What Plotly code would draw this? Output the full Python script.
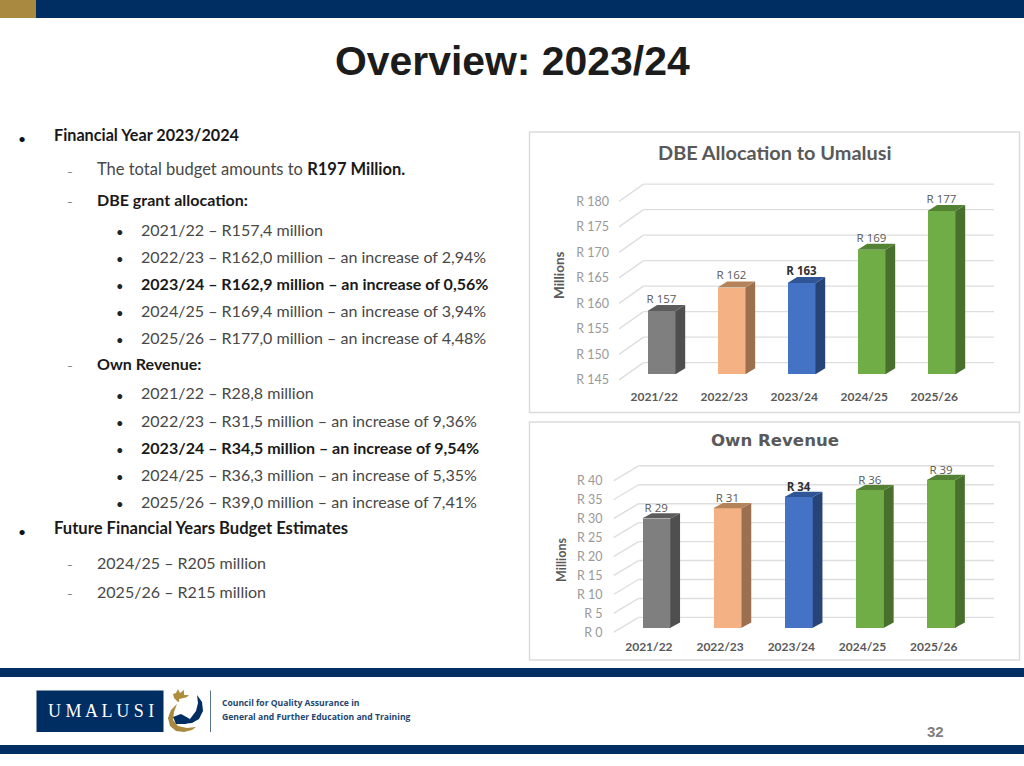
import plotly.graph_objects as go

W, H = 1024, 766
NAVY = "#002d62"

# ---------- data ----------
categories = ["2021/22", "2022/23", "2023/24", "2024/25", "2025/26"]
dbe_values = [157.4, 162.0, 162.9, 169.4, 177.0]
dbe_labels = ["R 157", "R 162", "R 163", "R 169", "R 177"]
dbe_ticks = [145, 150, 155, 160, 165, 170, 175, 180]
own_values = [28.8, 31.5, 34.5, 36.3, 39.0]
own_labels = ["R 29", "R 31", "R 34", "R 36", "R 39"]
own_ticks = [0, 5, 10, 15, 20, 25, 30, 35, 40]
front_colors = ["#7f7f7f", "#f4b183", "#4472c4", "#70ad47", "#70ad47"]
side_colors = ["#4f4f4f", "#9c6f4e", "#264478", "#48702c", "#48702c"]
top_colors = ["#5c5c5c", "#b5835a", "#2f5597", "#548235", "#548235"]

heading = "Overview: 2023/24"
body_lines = [
    (54, 136, 0, 16.2, "<b>Financial Year 2023/2024</b>"),
    (97, 170, 1, 16.5, "The total budget amounts to <b style='color:#1a1a1a'>R197 Million.</b>"),
    (97, 200, 1, 16.05, "<b>DBE grant allocation:</b>"),
    (141, 230, 2, 16.05, "2021/22 – R157,4 million"),
    (141, 257, 2, 16.05, "2022/23 – R162,0 million – an increase of 2,94%"),
    (141, 284, 2, 16.05, "<b>2023/24 – R162,9 million – an increase of 0,56%</b>"),
    (141, 311, 2, 16.05, "2024/25 – R169,4 million – an increase of 3,94%"),
    (141, 338, 2, 16.05, "2025/26 – R177,0 million – an increase of 4,48%"),
    (97, 364, 1, 16.05, "<b>Own Revenue:</b>"),
    (141, 394, 2, 16.05, "2021/22 – R28,8 million"),
    (141, 421, 2, 16.05, "2022/23 – R31,5 million – an increase of 9,36%"),
    (141, 448, 2, 16.05, "<b>2023/24 – R34,5 million – an increase of 9,54%</b>"),
    (141, 475, 2, 16.05, "2024/25 – R36,3 million – an increase of 5,35%"),
    (141, 502, 2, 16.05, "2025/26 – R39,0 million – an increase of 7,41%"),
    (54, 529, 0, 16.6, "<b>Future Financial Years Budget Estimates</b>"),
    (97, 563, 1, 16.05, "2024/25 – R205 million"),
    (97, 592, 1, 16.05, "2025/26 – R215 million"),
]

FONT = "Lato"
fig = go.Figure()
shapes, annotations = [], []


def px(x):
    return x / W


def py(y):
    return 1 - y / H


def text(x, y, s, size, color, anchor="left", family=FONT, angle=0):
    annotations.append(dict(xref="paper", yref="paper", x=px(x), y=py(y), text=s, showarrow=False,
                            xanchor=anchor, yanchor="middle", textangle=angle,
                            font=dict(size=size, color=color, family=family)))


def rect(x0, y0, x1, y1, fill=None, line=None, width=1):
    shapes.append(dict(type="rect", xref="paper", yref="paper", x0=px(x0), x1=px(x1), y0=py(y0), y1=py(y1),
                       fillcolor=fill or "rgba(0,0,0,0)", line=dict(color=line or "rgba(0,0,0,0)", width=width),
                       layer="below"))


def poly(points, fill):
    d = "M " + " L ".join(f"{px(a):.5f},{py(b):.5f}" for a, b in points) + " Z"
    shapes.append(dict(type="path", xref="paper", yref="paper", path=d, fillcolor=fill, line=dict(width=0)))


def chart(n, values, labels, ticks, base, conf):
    xa, ya = f"xaxis{n}", f"yaxis{n}"
    xr, yr = f"x{n}", f"y{n}"
    step, ppu = conf["step"], conf["ppu"]
    u_x = lambda p: p / step
    u_y = lambda p: p / ppu
    x_low = u_x(conf["left"] - conf["cx"])
    x_high = u_x(conf["right"] - conf["cx"])
    y_low = base - u_y(conf["bottom"] - conf["floor"])
    y_high = base + u_y(conf["floor"] - conf["top"])
    half = u_x(conf["barw"]) / 2
    ddx, ddy = u_x(conf["depth_x"]), u_y(conf["depth_y"])

    # back wall gridlines and the floor/side diagonals, under the bars
    back_x0 = u_x(conf["back_left"] - conf["cx"])
    back_dy = u_y(conf["back_dy"])
    front_dy = u_y(conf["front_dy"])
    gl = dict(color="#dedede", width=1.4)
    for t in ticks:
        shapes.append(dict(type="line", xref=xr, yref=yr, x0=back_x0, x1=x_high,
                           y0=t + back_dy, y1=t + back_dy, line=gl, layer="below"))
        shapes.append(dict(type="line", xref=xr, yref=yr, x0=x_low, x1=back_x0,
                           y0=t - front_dy, y1=t + back_dy, line=gl, layer="below"))

    # front faces
    fig.add_trace(go.Bar(x=list(range(len(values))), y=[v - base for v in values], base=base,
                         width=2 * half, marker=dict(color=front_colors, line=dict(width=0)),
                         xaxis=xr, yaxis=yr, showlegend=False, hoverinfo="skip"))
    # side and top faces
    for i, v in enumerate(values):
        fig.add_trace(go.Scatter(
            x=[i + half, i + half + ddx, i + half + ddx, i + half, i + half],
            y=[base, base + ddy, v + ddy, v, base], mode="lines", fill="toself",
            fillcolor=side_colors[i], line=dict(width=0), xaxis=xr, yaxis=yr, showlegend=False, hoverinfo="skip"))
        fig.add_trace(go.Scatter(
            x=[i - half, i - half + ddx, i + half + ddx, i + half, i - half],
            y=[v, v + ddy, v + ddy, v, v], mode="lines", fill="toself",
            fillcolor=top_colors[i], line=dict(width=0), xaxis=xr, yaxis=yr, showlegend=False, hoverinfo="skip"))
    # value labels
    for i, v in enumerate(values):
        bold = i == 2
        fig.add_trace(go.Scatter(
            x=[i], y=[v + ddy + u_y(conf["lab_up"])], mode="text",
            text=[f"<b>{labels[i]}</b>" if bold else labels[i]], textposition="middle center",
            textfont=dict(size=11.5, color="#303030" if bold else "#595959", family="Open Sans"),
            xaxis=xr, yaxis=yr, showlegend=False, hoverinfo="skip", cliponaxis=False))

    fig.update_layout({
        xa: dict(domain=[px(conf["left"]), px(conf["right"])], range=[x_low, x_high], anchor=yr,
                 tickmode="array", tickvals=[i - u_x(conf["cat_shift"]) for i in range(len(categories))],
                 ticktext=categories, showgrid=False, zeroline=False, showline=False, ticks="",
                 ticklabelstandoff=conf["cat_off"],
                 tickfont=dict(size=12, color="#595959", family=f"{FONT}, sans-serif", weight="bold")),
        ya: dict(domain=[py(conf["bottom"]), py(conf["top"])], range=[y_low, y_high], anchor=xr,
                 tickmode="array", tickvals=[t - front_dy for t in ticks],
                 ticktext=[f"R {t}" for t in ticks], showgrid=False, zeroline=False, showline=False, ticks="",
                 ticklabelstandoff=conf["tick_off"],
                 tickfont=dict(size=12.5, color="#999999", family=FONT)),
    })


dbe_conf = dict(cx=661.5, step=70, ppu=5.1, floor=374.3, left=619, right=994, top=178, bottom=384,
                barw=28, depth_x=9.7, depth_y=6, back_left=643.5, back_dy=11.7, front_dy=5.6,
                lab_up=5, cat_shift=7.3, cat_off=4, tick_off=9)
own_conf = dict(cx=656.2, step=71.2, ppu=3.79, floor=627.7, left=613.5, right=994, top=462, bottom=634,
                barw=28.3, depth_x=9.7, depth_y=5.2, back_left=638.5, back_dy=10.3, front_dy=4.7,
                lab_up=4, cat_shift=7.3, cat_off=4, tick_off=10)

# ---------- slide furniture ----------
rect(0, 0, 1024, 18, NAVY)
rect(0, 0, 36, 18, "#a8893f")
rect(0, 668, 1024, 677, NAVY)
rect(0, 745, 1024, 754, NAVY)
rect(529.5, 132, 1019.5, 412.5, None, "#dcdcdc", 1.5)
rect(529.5, 422, 1019.5, 660, None, "#dcdcdc", 1.5)

text(512, 61, f"<b>{heading}</b>", 40.9, "#1c1c1c", "center", "Liberation Sans")

markers = {0: (22, "•", 14, "#111111"), 1: (70, "–", 10, "#555555"), 2: (120, "•", 13, "#222222")}
for x, y, level, size_pt, s in body_lines:
    mx, glyph, size, color = markers[level]
    text(mx, y + (2 if level != 1 else 1), glyph, size, color, "center")
    text(x - 2, y - 1, s, size_pt, "#1a1a1a" if s.startswith("<b>") else "#484848")

chart("", dbe_values, dbe_labels, dbe_ticks, 145, dbe_conf)
chart("2", own_values, own_labels, own_ticks, 0, own_conf)

text(775, 152, "<b>DBE Allocation to Umalusi</b>", 19.9, "#595959", "center")
text(775, 440, "<b>Own Revenue</b>", 16.6, "#595959", "center", "DejaVu Sans")
text(559, 275, "<b>Millions</b>", 13.5, "#595959", "center", angle=-90)
text(561, 560, "<b>Millions</b>", 12.5, "#595959", "center", angle=-90)

# logo
rect(36.5, 690.5, 163.5, 732, NAVY)
text(101, 711, "U M A L U S I", 18, "#ffffff", "center", "Liberation Serif")
rect(210, 690.5, 211, 732, "#5a7391")
poly([(178, 689), (180, 693), (184, 690), (184, 695), (189, 695), (186, 698), (178, 702), (174, 698), (173, 694), (176, 693)], "#b08d3c")
poly([(177, 704), (171, 710), (168, 718), (170, 726), (176, 731), (184, 732), (192, 730), (196, 727), (187, 728), (178, 726), (173, 720), (174, 712)], "#a8893f")
poly([(197, 695), (202, 702), (203, 711), (199, 719), (192, 723), (182, 724), (190, 719), (196, 711), (198, 703)], NAVY)
poly([(179, 699), (193, 696), (194, 712), (181, 715)], "#ffffff")
poly([(173, 717), (181, 714), (190, 719), (186, 724), (176, 724)], NAVY)
text(220, 703, "<b>Council for Quality Assurance in</b>", 8.6, "#24466f", "left", "Open Sans")
text(220, 717, "<b>General and Further Education and Training</b>", 8.6, "#24466f", "left", "Open Sans")
text(935, 731, "<b>32</b>", 15, "#7f7f7f", "center", "Liberation Sans")

fig.update_layout(width=W, height=H, margin=dict(l=0, r=0, t=0, b=0, autoexpand=False),
                  paper_bgcolor="#ffffff", plot_bgcolor="rgba(0,0,0,0)", showlegend=False,
                  bargap=0, shapes=shapes, annotations=annotations)
fig.write_html("out.html", config=dict(displayModeBar=False),
               post_script="document.body.style.margin='0';document.documentElement.style.overflow='hidden';")
